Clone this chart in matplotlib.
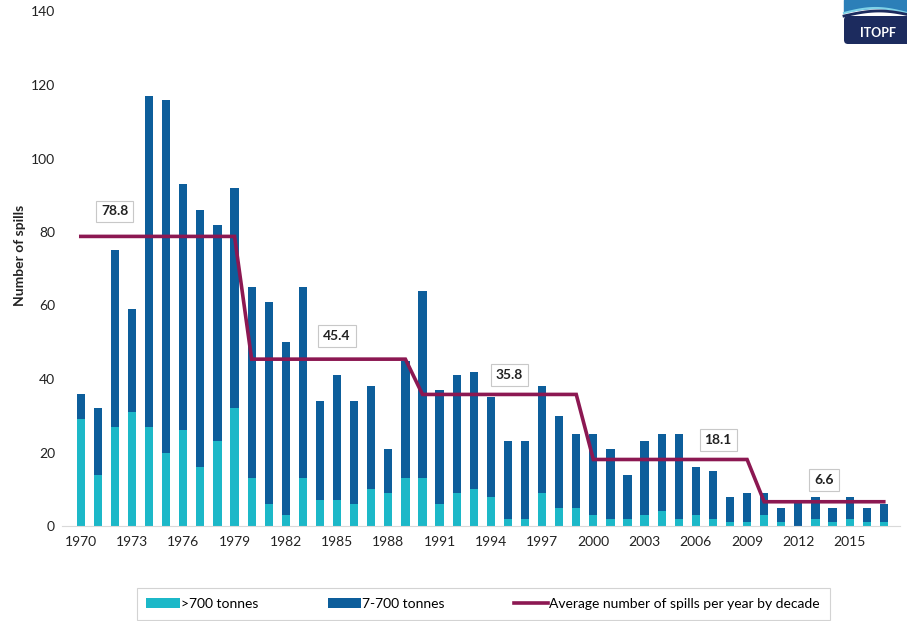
import matplotlib
matplotlib.use("Agg")
import matplotlib.pyplot as plt
import numpy as np
from matplotlib.patches import Patch, Rectangle, FancyBboxPatch
from matplotlib.lines import Line2D

plt.rcParams['font.family'] = ['Lato', 'DejaVu Sans']

years = list(range(1970, 2018))
total = [36, 32, 75, 59, 117, 116, 93, 86, 82, 92,
         65, 61, 50, 65, 34, 41, 34, 38, 21, 45,
         64, 37, 41, 42, 35, 23, 23, 38, 30, 25,
         25, 21, 14, 23, 25, 25, 16, 15, 8, 9,
         9, 5, 7, 8, 5, 8, 5, 6]
large = [29, 14, 27, 31, 27, 20, 26, 16, 23, 32,
         13, 6, 3, 13, 7, 7, 6, 10, 9, 13,
         13, 6, 9, 10, 8, 2, 2, 9, 5, 5,
         3, 2, 2, 3, 4, 2, 3, 2, 1, 1,
         3, 1, 0, 2, 1, 2, 1, 1]
medium = [t - l for t, l in zip(total, large)]

decade_avg = [78.8, 45.4, 35.8, 18.1, 6.6]
decade_start = [1970, 1980, 1990, 2000, 2010]
decade_end = [1979, 1989, 1999, 2009, 2017]
avg_labels = ["78.8", "45.4", "35.8", "18.1", "6.6"]
label_pos = [(1972.0, 85.6), (1985.0, 51.7), (1995.1, 41.0), (2007.3, 23.4), (2013.5, 12.6)]

xtick_years = list(range(1970, 2018, 3))
yticks = list(range(0, 141, 20))

c_large = '#1CB8C8'
c_medium = '#0D5E9B'
c_avg = '#8C1852'

W, H = 907, 621
fig = plt.figure(figsize=(W / 100, H / 100), dpi=100)
ax = fig.add_axes([62 / W, (H - 526) / H, 838 / W, 514.5 / H])

bw = 0.48
ax.bar(years, large, width=bw, color=c_large, zorder=2)
ax.bar(years, medium, width=bw, bottom=large, color=c_medium, zorder=2)

lx, ly = [], []
for s, e, v in zip(decade_start, decade_end, decade_avg):
    lx += [s, e]
    ly += [v, v]
ax.plot(lx, ly, color=c_avg, lw=2.6, zorder=3, solid_joinstyle='miter')

for (x, y), t in zip(label_pos, avg_labels):
    ax.text(x, y, t, ha='center', va='center', fontsize=10, fontweight='bold',
            color='#222222', zorder=4,
            bbox=dict(boxstyle='square,pad=0.35', fc='white', ec='#C8C8C8', lw=0.8))

ax.set_xlim(1968.9, 2017.95)
ax.set_ylim(0, 140)
ax.set_xticks(xtick_years)
ax.set_xticklabels([str(y) for y in xtick_years], fontsize=10, color='#222222')
ax.set_yticks(yticks)
ax.set_yticklabels([str(y) for y in yticks], fontsize=10, color='#222222')
ax.tick_params(axis='both', length=0, pad=5)
ax.tick_params(axis='x', pad=7)
for sp in ['top', 'right', 'left']:
    ax.spines[sp].set_visible(False)
ax.spines['bottom'].set_color('#D9D9D9')
ax.spines['bottom'].set_linewidth(0.8)

fig.text(20 / W, 1 - 255 / H, 'Number of spills', rotation=90, ha='center', va='center',
         fontsize=10, fontweight='bold', color='#222222')

handles = [Patch(facecolor=c_large, edgecolor='none'),
           Patch(facecolor=c_medium, edgecolor='none'),
           Line2D([0], [0], color=c_avg, lw=2.6)]
labels = ['>700 tonnes', '7-700 tonnes', 'Average number of spills per year by decade']
leg = fig.legend(handles, labels, loc='center', bbox_to_anchor=(483 / W, 1 - 604 / H),
                 ncol=3, frameon=True, fontsize=10, handlelength=2.4, handleheight=0.7,
                 handletextpad=0.1, columnspacing=5.0, borderpad=0.7, borderaxespad=0,
                 fancybox=False)
leg.get_frame().set_edgecolor('#C8C8C8')
leg.get_frame().set_linewidth(0.8)
leg._legend_box.sep = 0

# ITOPF logo (approximation)
lax = fig.add_axes([842 / W, 1 - 46 / H, 65 / W, 46 / H])
lax.set_xlim(0, 65)
lax.set_ylim(46, 0)
lax.axis('off')
lax.add_patch(FancyBboxPatch((2, 16), 70, 28, boxstyle='round,pad=0,rounding_size=4',
                             fc='#1C2B5E', ec='none'))
xs = np.linspace(2, 65, 50)
lax.fill_between(xs, 0, 12 - 4 * np.sin((xs - 2) / 63 * np.pi), color='#2C7FB8')
lax.plot(xs, 13 - 5 * np.sin((xs - 2) / 63 * np.pi), color='#7FD3E8', lw=1.5)
lax.plot(xs, 16 - 5 * np.sin((xs - 2) / 63 * np.pi * 0.9), color='#1C2B5E', lw=2)
lax.text(36, 33, 'ITOPF', color='white', fontsize=9, fontweight='bold', ha='center', va='center')

fig.savefig('out.png', dpi=100, facecolor='white')
